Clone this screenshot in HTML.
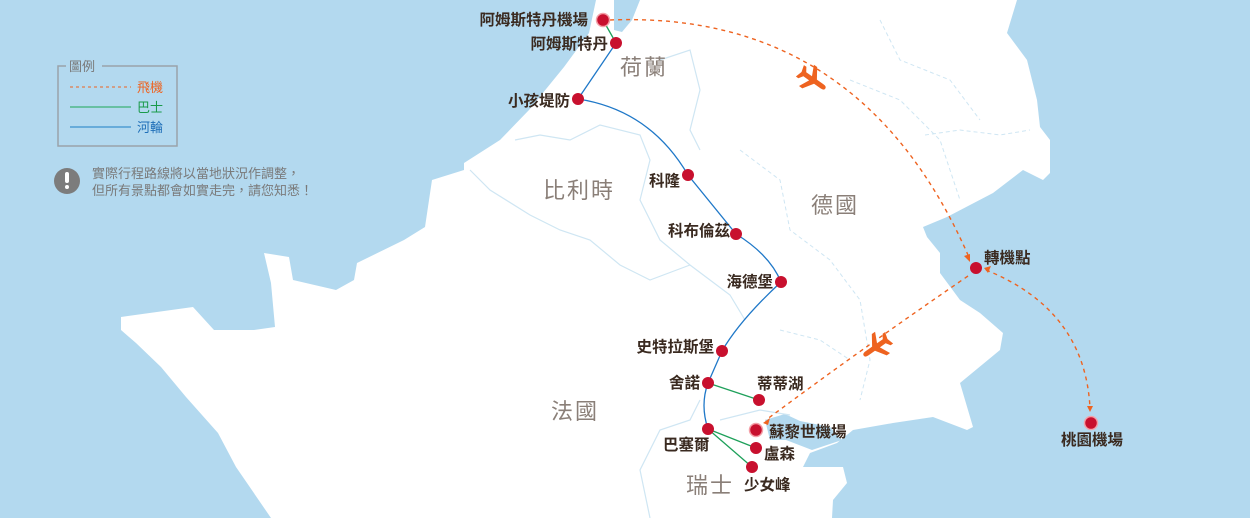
<!DOCTYPE html>
<html><head><meta charset="utf-8"><style>
html,body{margin:0;padding:0;background:#b3d9ef;}
svg{display:block;}
text{font-family:"Liberation Sans","Noto Sans CJK TC",sans-serif;}
</style></head><body>
<svg width="1250" height="518" viewBox="0 0 1250 518" xmlns="http://www.w3.org/2000/svg">
<rect width="1250" height="518" fill="#b3d9ef"/>
<!-- land -->
<path d="M596,0 L1017,0 L1007,33 L1027,60 L1037,100 L1040,127 L1050,140 L1050,173 L1043,180 L1023,170 L993,193 L947,217 L923,227 L927,237 L940,253 L940,273 L960,300 L980,313 L1003,333 L1000,350 L960,383 L973,427 L967,430 L933,417 L893,423 L853,430 L837,443 L810,453 L803,467 L843,467 L847,483 L833,500 L832,518 L271,518 L236,467 L218,433 L186,397 L161,367 L136,343 L121,330 L121,317 L193,307 L214,330 L254,330 L275,327 L271,283 L264,253 L289,257 L293,280 L336,290 L354,280 L357,263 L404,240 L425,227 L432,180 L464,170 L464,163 L500,140 L529,110 L564,67 L589,33 Z" fill="#ffffff"/>
<path d="M614,0 L640,0 L632,20 L622,32 L614,30 Z" fill="#b3d9ef"/>
<path d="M765,420 L785,414 L800,421 L830,427 L842,440 L812,450 L786,440 L770,440 Z" fill="#b3d9ef"/>
<!-- borders -->
<g fill="none" stroke="#cfe6f3" stroke-width="1.2">
<path d="M515,140 L540,135 L570,140 L600,125 L640,135 L650,160 L640,200 L660,240 L690,265 L730,295 L745,320"/>
<path d="M660,60 L690,50 L700,90 L690,130 L700,150"/>
<path d="M690,265 L650,280 L620,265 L590,240 L560,230 L530,215 L490,190 L470,170"/>
<path d="M700,400 L690,420 L660,430 L640,470 L650,518"/>
<path d="M720,420 L760,410 L790,415"/>
</g>
<g fill="none" stroke="#cfe6f3" stroke-width="1" stroke-dasharray="4,3">
<path d="M740,150 L780,180 L790,230 L830,260 L860,300 L870,360 L860,400"/>
<path d="M850,80 L900,100 L940,140 L960,200"/>
<path d="M880,20 L900,60 L950,80 L980,120"/>
<path d="M780,330 L820,340 L850,360"/>
<path d="M925,135 L960,130 L1000,135 L1030,130"/>
</g>
<!-- routes -->
<g fill="none" stroke-width="1.3">
<path d="M616,43 L578,99 Q650,110 688,175 L736,234 Q770,255 781,282 Q740,320 722,351 L708,383 Q700,405 708,429" stroke="#1f78c8"/>
<path d="M603,20 L616,43 M708,383 L759,400 M708,429 L756,448 M708,429 L752,467" stroke="#1ea05a"/>
</g>
<g fill="none" stroke="#ee6320" stroke-width="1.4" stroke-dasharray="4,4">
<path d="M610,20 Q860,10 968,255"/>
<path d="M968,276 Q860,350 766,420"/>
<path d="M986,270 Q1085,310 1090,408"/>
</g>
<g fill="#ee6320">
<path d="M964,256 L970,254 L970,262 Z"/>
<path d="M763,423 L770,418 L768,425 Z"/>
<path d="M1087,406 L1093,406 L1090,412 Z"/>
<path d="M984,268 L991,266 L988,273 Z"/>
</g>
<g fill="#ee6320">
<path transform="translate(813,80) rotate(35)" d="M15,0 Q15,-2.5 11,-2.5 L3,-2.5 L-4,-13 L-8,-13 L-3,-2.5 L-10,-2.5 L-13,-7 L-16,-7 L-14,0 L-16,7 L-13,7 L-10,2.5 L-3,2.5 L-8,13 L-4,13 L3,2.5 L11,2.5 Q15,2.5 15,0 Z"/>
<path transform="translate(876,347) rotate(145)" d="M15,0 Q15,-2.5 11,-2.5 L3,-2.5 L-4,-13 L-8,-13 L-3,-2.5 L-10,-2.5 L-13,-7 L-16,-7 L-14,0 L-16,7 L-13,7 L-10,2.5 L-3,2.5 L-8,13 L-4,13 L3,2.5 L11,2.5 Q15,2.5 15,0 Z"/>
</g>
<!-- nodes -->
<g fill="#c8102e">
<circle cx="616" cy="43" r="6"/><circle cx="578" cy="99" r="6"/><circle cx="688" cy="175" r="6"/>
<circle cx="736" cy="234" r="6"/><circle cx="781" cy="282" r="6"/><circle cx="722" cy="351" r="6"/>
<circle cx="708" cy="383" r="6"/><circle cx="759" cy="400" r="6"/><circle cx="708" cy="429" r="6"/>
<circle cx="756" cy="448" r="6"/><circle cx="752" cy="467" r="6"/><circle cx="976" cy="268" r="6"/>
</g>
<g fill="#c8102e" stroke="#f4a0a8" stroke-width="1.5">
<circle cx="603" cy="20" r="6.5"/><circle cx="756" cy="430" r="6.5"/><circle cx="1091" cy="423" r="6.5"/>
</g>
<!-- labels -->
<g font-size="15.5" fill="#3a2a20" font-weight="bold">
<text x="588" y="25" text-anchor="end">阿姆斯特丹機場</text>
<text x="608" y="49" text-anchor="end">阿姆斯特丹</text>
<text x="570" y="106" text-anchor="end">小孩堤防</text>
<text x="680" y="186" text-anchor="end">科隆</text>
<text x="730" y="236" text-anchor="end">科布倫茲</text>
<text x="773" y="287" text-anchor="end">海德堡</text>
<text x="714" y="352" text-anchor="end">史特拉斯堡</text>
<text x="700" y="388" text-anchor="end">舍諾</text>
<text x="757" y="389">蒂蒂湖</text>
<text x="769" y="437">蘇黎世機場</text>
<text x="663" y="450">巴塞爾</text>
<text x="764" y="459">盧森</text>
<text x="744" y="490">少女峰</text>
<text x="984" y="263">轉機點</text>
<text x="1061" y="445">桃園機場</text>
</g>
<g font-size="22" fill="#8a7f78">
<text x="620" y="75" letter-spacing="2">荷蘭</text>
<text x="543" y="198" letter-spacing="2">比利時</text>
<text x="811" y="213" letter-spacing="2">德國</text>
<text x="551" y="419" letter-spacing="2">法國</text>
<text x="686" y="493" letter-spacing="2">瑞士</text>
</g>
<!-- legend -->
<path d="M66,66 L58,66 L58,146 L177,146 L177,66 L102,66" fill="none" stroke="#9aa3aa" stroke-width="1.5"/>
<text x="69" y="71" font-size="13" fill="#7a7a7a">圖例</text>
<line x1="70" y1="87" x2="131" y2="87" stroke="#ee6320" stroke-width="1" stroke-dasharray="3,3"/>
<text x="137" y="92" font-size="13" fill="#ee6320">飛機</text>
<line x1="70" y1="107" x2="131" y2="107" stroke="#4fb88a" stroke-width="1.5"/>
<text x="137" y="112" font-size="13" fill="#1a9a4a">巴士</text>
<line x1="70" y1="127" x2="131" y2="127" stroke="#4f9ed4" stroke-width="1.5"/>
<text x="137" y="132" font-size="13" fill="#1f6fb8">河輪</text>
<circle cx="67" cy="181" r="13" fill="#7c7c7c"/>
<rect x="65" y="172" width="4" height="11" rx="2" fill="#fff"/>
<circle cx="67" cy="187" r="2" fill="#fff"/>
<text x="92" y="178" font-size="13" fill="#7a7a7a">實際行程路線將以當地狀況作調整，</text>
<text x="92" y="195" font-size="13" fill="#7a7a7a">但所有景點都會如實走完，請您知悉！</text>
</svg>
</body></html>
